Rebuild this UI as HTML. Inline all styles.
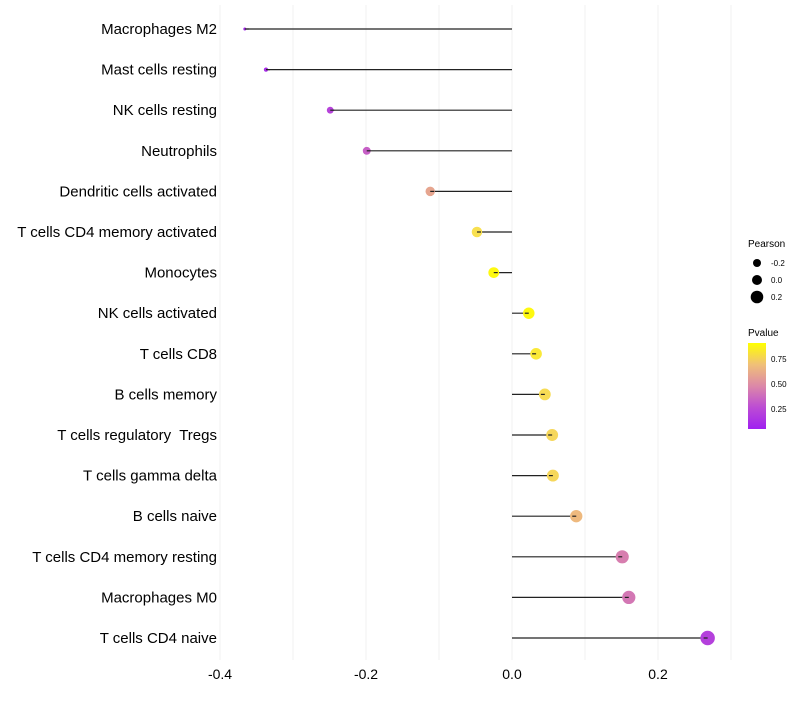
<!DOCTYPE html>
<html><head><meta charset="utf-8"><style>
body{margin:0;background:#fff;font-family:"Liberation Sans",sans-serif}
text{white-space:pre}
</style></head><body>
<svg id="chart" width="800" height="700" xmlns="http://www.w3.org/2000/svg" font-family="Liberation Sans, sans-serif">
<g id="grid"></g>
<g id="marks"></g>
<g id="ylab"></g>
<g id="xlab"></g>
<g>
<text x="748" y="247" font-size="10">Pearson</text>
<g id="sizeleg"></g>
<text x="748" y="336" font-size="10">Pvalue</text>
<defs><linearGradient id="pg" x1="0" y1="1" x2="0" y2="0">
<stop offset="0" stop-color="#A020F0"/><stop offset="0.25" stop-color="#BC4CD4"/><stop offset="0.5" stop-color="#DC88A8"/><stop offset="0.75" stop-color="#F0C078"/><stop offset="1" stop-color="#FFFF00"/>
</linearGradient></defs>
<rect x="748" y="343" width="18" height="86" fill="url(#pg)"/>
<text x="771" y="362" font-size="8">0.75</text>
<text x="771" y="387" font-size="8">0.50</text>
<text x="771" y="412" font-size="8">0.25</text>
</g>
</svg>
<script>
const categories=["Macrophages M2","Mast cells resting","NK cells resting","Neutrophils","Dendritic cells activated","T cells CD4 memory activated","Monocytes","NK cells activated","T cells CD8","B cells memory","T cells regulatory  Tregs","T cells gamma delta","B cells naive","T cells CD4 memory resting","Macrophages M0","T cells CD4 naive"];
const pearson=[-0.366,-0.337,-0.249,-0.199,-0.112,-0.048,-0.025,0.023,0.033,0.045,0.055,0.056,0.088,0.151,0.160,0.268];
const pvalue=[0.04,0.07,0.2,0.33,0.63,0.9,0.98,0.98,0.93,0.88,0.86,0.86,0.72,0.46,0.43,0.18];
const xTicks=[-0.4,-0.2,0,0.2];
const xTickLabels=["-0.4","-0.2","0.0","0.2"];
const sizeLegendVals=[-0.2,0,0.2];
const sizeLegendLabels=["-0.2","0.0","0.2"];
const NS="http://www.w3.org/2000/svg";
const x=v=>512+v*730;
const y=i=>29+i*40.6;
const r=v=>Math.sqrt(Math.max(2,2.25+50*(v+0.366)/0.634));
const stops=[[0,[160,32,240]],[0.25,[188,76,212]],[0.5,[220,136,168]],[0.75,[240,192,120]],[0.9,[248,224,80]],[1,[255,255,0]]];
function col(p){for(let i=1;i<stops.length;i++){if(p<=stops[i][0]){const a=stops[i-1],b=stops[i],t=(p-a[0])/(b[0]-a[0]);return "rgb("+a[1].map((c,k)=>Math.round(c+(b[1][k]-c)*t)).join(",")+")";}}return "rgb(255,255,0)";}
function mk(tag,at,parent){const e=document.createElementNS(NS,tag);for(const k in at)e.setAttribute(k,at[k]);document.getElementById(parent).appendChild(e);return e;}
for(let v=-0.4;v<=0.31;v+=0.1){const l=mk("line",{x1:x(v),x2:x(v),y1:5,y2:660,stroke:"#f1f1f1","stroke-width":1},"grid");

}
xTicks.forEach((v,i)=>{const t=mk("text",{x:x(v),y:679,"font-size":14,"text-anchor":"middle",fill:"#000"},"xlab");t.textContent=xTickLabels[i];

});
categories.forEach((c,i)=>{
const t=mk("text",{x:217,y:y(i)+5,"font-size":15,"text-anchor":"end",fill:"#000"},"ylab");t.textContent=c;


const ln=mk("line",{x1:x(0),x2:x(pearson[i]),y1:y(i),y2:y(i),stroke:"#222","stroke-width":1.2},"marks");


const ci=mk("circle",{cx:x(pearson[i]),cy:y(i),r:r(pearson[i]),fill:col(pvalue[i])},"marks");


const ln2=mk("line",{x1:x(pearson[i]),x2:x(pearson[i])+(pearson[i]<0?4:-4),y1:y(i),y2:y(i),stroke:"#222","stroke-width":1.2},"marks");


});
sizeLegendVals.forEach((v,i)=>{const cy=263+i*17;
const c=mk("circle",{cx:757,cy:cy,r:[4,5,6.3][i],fill:"#000"},"sizeleg");


const t=mk("text",{x:771,y:cy+3,"font-size":8},"sizeleg");t.textContent=sizeLegendLabels[i];

});
</script>
</body></html>
